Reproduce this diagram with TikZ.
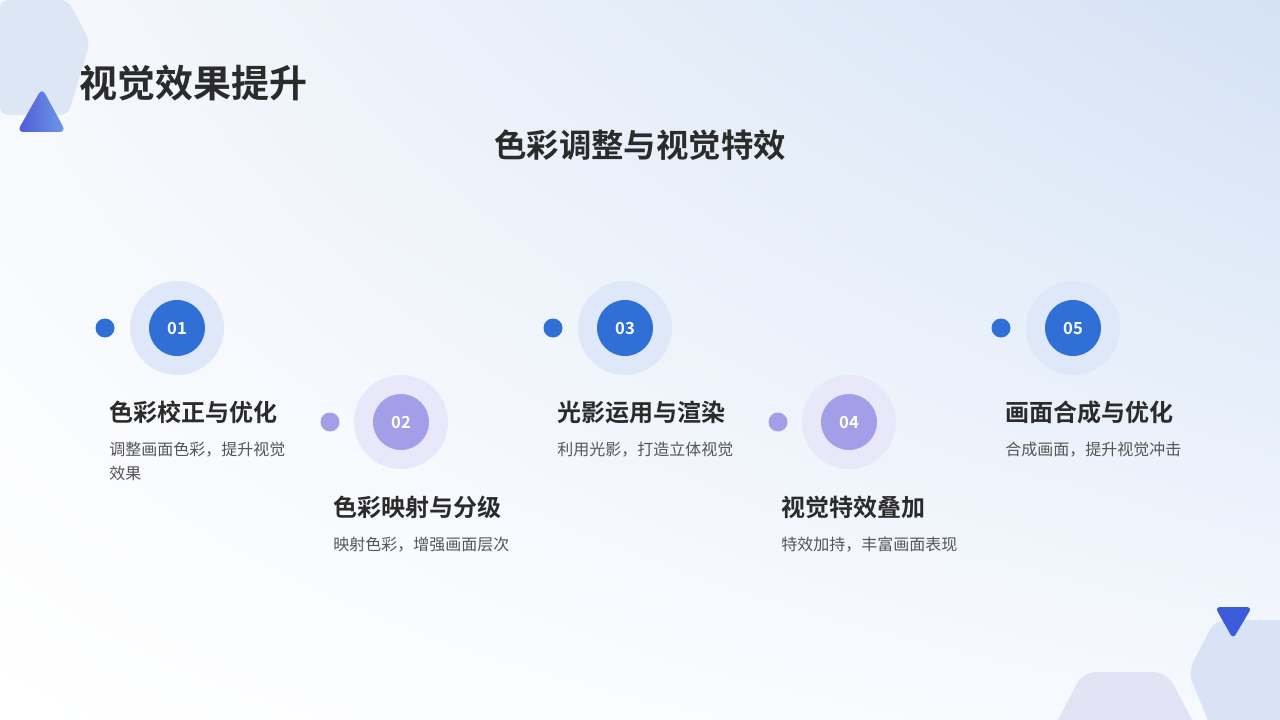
\documentclass[tikz,border=0pt]{standalone}
\usepackage{fontspec}
\usetikzlibrary{shadings}
\newfontfamily\cjk{Noto Sans CJK SC}
\newfontfamily\cjkb{Noto Sans CJK SC Bold}
\definecolor{blueA}{HTML}{2F6FD6}
\definecolor{blueL}{HTML}{DFE8F8}
\definecolor{purA}{HTML}{A29FE8}
\definecolor{purL}{HTML}{E8E8FA}
\definecolor{txt}{HTML}{2B2B2B}
\definecolor{desc}{HTML}{555555}
\definecolor{bgUL}{RGB}{246,248,252}
\definecolor{bgUR}{RGB}{212,226,245}
\definecolor{bgLR}{RGB}{246,249,254}
\definecolor{hexA}{RGB}{220,230,245}
\definecolor{hexB}{RGB}{216,228,245}
\definecolor{lav}{RGB}{227,227,246}
\definecolor{triA}{RGB}{80,90,215}
\definecolor{triB}{RGB}{108,155,232}
\definecolor{triC}{RGB}{59,91,219}
\begin{document}
\begin{tikzpicture}[x=0.75pt,y=-0.75pt,
  ttl/.style={anchor=west,font=\cjkb\fontsize{18}{22}\selectfont,text=txt,inner sep=0},
  dsc/.style={anchor=north west,align=left,font=\cjk\fontsize{12}{17.5}\selectfont,text=desc,inner sep=0},
  num/.style={font=\cjkb\fontsize{12.5}{14}\selectfont,text=white}]
\useasboundingbox (0,0) rectangle (1280,720);
\shade[upper left=bgUL,upper right=bgUR,lower left=white,lower right=bgLR] (0,0) rectangle (1280,720);
\fill[rounded corners=6pt,hexA] (0,0)--(68,0)--(90,42)--(68,115)--(0,115)--cycle;
\shade[rounded corners=5pt,left color=triA,right color=triB] (42,88)--(17,132)--(66,132)--cycle;
\fill[rounded corners=8pt,hexB] (1300,620)--(1215,620)--(1188,672)--(1212,730)--(1300,730)--cycle;
\fill[rounded corners=10pt,lav] (1050,735)--(1083,672)--(1167,672)--(1200,735)--cycle;
\fill[rounded corners=4pt,triC] (1215,607)--(1252,607)--(1233,639)--cycle;
\node[anchor=west,font=\cjkb\fontsize{28.5}{32}\selectfont,text=txt,inner sep=0] (title) at (79,83) {视觉效果提升};
\node[font=\cjkb\fontsize{24.3}{28}\selectfont,text=txt,inner sep=0] (sub) at (640,145) {色彩调整与视觉特效};
\foreach \n/\x/\t/\d in {01/0/色彩校正与优化/{调整画面色彩，提升视觉\\效果},03/448/光影运用与渲染/利用光影，打造立体视觉,05/896/画面合成与优化/合成画面，提升视觉冲击}{
  \fill[blueL] (177+\x,328) circle (47);
  \node[circle,fill=blueA,minimum size=42pt,inner sep=0,num] (c\n) at (177+\x,328) {\n};
  \fill[blueA] (105+\x,328) circle (9.5);
  \node[ttl] (t\n) at (109+\x,412) {\t};
  \node[dsc] (d\n) at (109+\x,442) {\d};
}
\foreach \n/\x/\t/\d in {02/0/色彩映射与分级/映射色彩，增强画面层次,04/448/视觉特效叠加/特效加持，丰富画面表现}{
  \fill[purL] (401+\x,422) circle (47);
  \node[circle,fill=purA,minimum size=42pt,inner sep=0,num] (c\n) at (401+\x,422) {\n};
  \fill[purA] (330+\x,422) circle (9.5);
  \node[ttl] (t\n) at (333+\x,507) {\t};
  \node[dsc] (d\n) at (333+\x,537) {\d};
}
\end{tikzpicture}
\end{document}
